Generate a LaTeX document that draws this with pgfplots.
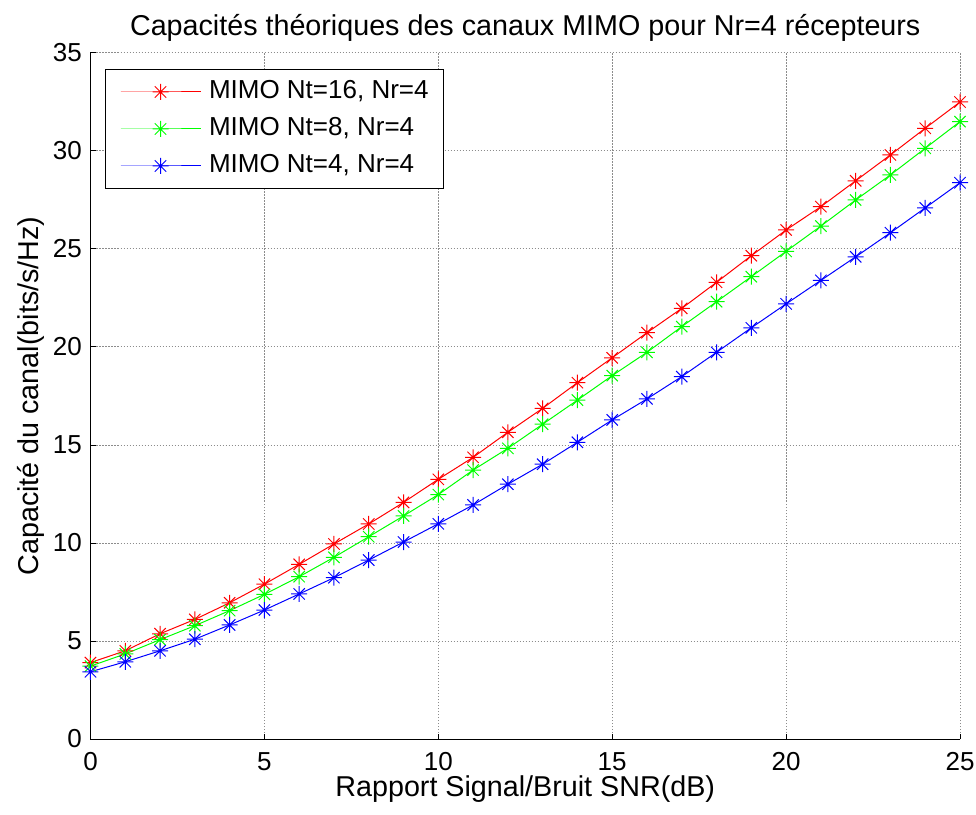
\documentclass[border=0pt]{standalone}
\usepackage{pgfplots}
\pgfplotsset{compat=1.18}
\usepackage{fontspec}
\setmainfont{Liberation Sans}

% eight-armed asterisk (plus and cross combined)
\pgfdeclareplotmark{mstar}{%
  \pgfpathmoveto{\pgfqpoint{-\pgfplotmarksize}{0pt}}%
  \pgfpathlineto{\pgfqpoint{\pgfplotmarksize}{0pt}}%
  \pgfpathmoveto{\pgfqpoint{0pt}{-\pgfplotmarksize}}%
  \pgfpathlineto{\pgfqpoint{0pt}{\pgfplotmarksize}}%
  \pgfpathmoveto{\pgfqpoint{-.7071\pgfplotmarksize}{-.7071\pgfplotmarksize}}%
  \pgfpathlineto{\pgfqpoint{.7071\pgfplotmarksize}{.7071\pgfplotmarksize}}%
  \pgfpathmoveto{\pgfqpoint{-.7071\pgfplotmarksize}{.7071\pgfplotmarksize}}%
  \pgfpathlineto{\pgfqpoint{.7071\pgfplotmarksize}{-.7071\pgfplotmarksize}}%
  \pgfusepathqstroke}

\definecolor{mred}{rgb}{1,0,0}
\definecolor{mgreen}{rgb}{0,1,0}
\definecolor{mblue}{rgb}{0,0,1}

% capacity (bits/s/Hz) versus SNR (dB)
\pgfplotstableread{
snr  nt16   nt8    nt4
0    3.90   3.72   3.43
1    4.50   4.34   3.94
2    5.37   5.07   4.50
3    6.10   5.78   5.09
4    6.95   6.55   5.82
5    7.90   7.38   6.58
6    8.91   8.28   7.40
7    9.95   9.27   8.23
8    10.97  10.32  9.13
9    12.07  11.38  10.05
10   13.25  12.47  10.98
11   14.37  13.72  11.94
12   15.65  14.83  13.00
13   16.87  16.06  14.02
14   18.18  17.29  15.14
15   19.45  18.54  16.28
16   20.73  19.73  17.35
17   21.97  21.04  18.49
18   23.30  22.31  19.73
19   24.66  23.59  20.98
20   25.97  24.88  22.20
21   27.16  26.17  23.40
22   28.48  27.50  24.60
23   29.80  28.78  25.83
24   31.16  30.14  27.10
25   32.50  31.50  28.38
}\capdata

\begin{document}
\begin{tikzpicture}
\path[use as bounding box] (-90.5pt,-75pt) rectangle (885.5pt,739pt);
\begin{axis}[
  at={(0pt,0pt)}, anchor=south west,
  scale only axis,
  width=869.5pt, height=686pt,
  xmin=0, xmax=25, ymin=0, ymax=35,
  xtick={0,5,...,25}, ytick={0,5,...,35},
  axis lines*=left,
  axis line style={black, line width=1pt},
  tick align=inside,
  major tick length=5pt,
  tick style={black, line width=1pt},
  grid=major,
  major grid style={black!45, dash pattern=on 1.5pt off 1.5pt, line width=1pt},
  clip=false,
  /pgf/number format/assume math mode=true,
  tick label style={font=\fontsize{26}{30}\selectfont},
  xticklabel style={inner sep=0pt, yshift=-13pt},
  yticklabel style={inner sep=0pt, xshift=-8.5pt},
  title={Capacités théoriques des canaux MIMO pour Nr=4 récepteurs},
  title style={at={(axis description cs:0.5,1)}, anchor=base, yshift=11pt,
    inner sep=0pt, font=\fontsize{28.7}{33}\selectfont},
  xlabel={Rapport Signal/Bruit SNR(dB)},
  xlabel style={at={(axis description cs:0.5,0)}, anchor=base, yshift=-57pt,
    inner sep=0pt, font=\fontsize{28.7}{33}\selectfont},
  ylabel={Capacité du canal(bits/s/Hz)},
  ylabel style={at={(axis description cs:-0.0593,0.5)}, rotate=0, anchor=base,
    inner sep=0pt, font=\fontsize{28.7}{33}\selectfont},
  legend cell align=left,
  legend style={
    at={(axis description cs:0.01668,0.9767)}, anchor=north west,
    draw=black, line width=1pt,
    font=\fontsize{26}{30}\selectfont,
    inner xsep=14.5pt, inner ysep=10pt,
    row sep=12pt, column sep=8pt,
    nodes={inner sep=0pt, text height=19pt, text depth=6pt},
  },
  legend image code/.code={%
    \draw[mark repeat=2, mark phase=2, line width=1pt, #1]
      plot coordinates {(0pt,0pt) (40pt,0pt) (80pt,0pt)};},
  every axis plot/.append style={line width=1pt, mark=mstar, mark size=8pt,
    mark options={solid, line width=1pt}},
]
\addplot[color=mred] table[x=snr, y=nt16] {\capdata};
\addlegendentry{MIMO Nt=16, Nr=4}
\addplot[color=mgreen] table[x=snr, y=nt8] {\capdata};
\addlegendentry{MIMO Nt=8, Nr=4}
\addplot[color=mblue] table[x=snr, y=nt4] {\capdata};
\addlegendentry{MIMO Nt=4, Nr=4}
\end{axis}
\end{tikzpicture}
\end{document}
